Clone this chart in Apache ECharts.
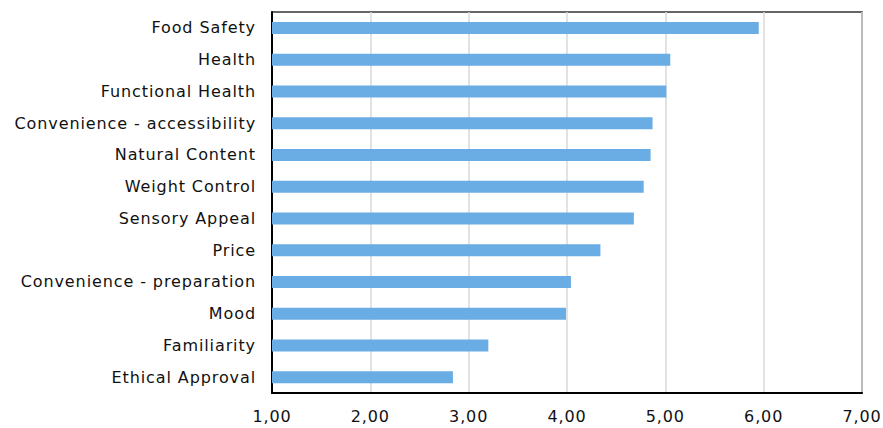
<!DOCTYPE html>
<html>
<head>
<meta charset="utf-8">
<script src="https://cdn.jsdelivr.net/npm/echarts@6/dist/echarts.min.js"></script>
<style>
  html, body { margin: 0; padding: 0; background: #fff; }
  #chart { width: 883px; height: 428px; }
  /* Verdana-like wide tracking for all chart text */
  #chart text { letter-spacing: 0.9px; }
</style>
</head>
<body>
<div id="chart"></div>
<script>
// Food choice motives, mean importance scores (1-7 scale)
const categories = [
  'Food Safety',
  'Health',
  'Functional Health',
  'Convenience - accessibility',
  'Natural Content',
  'Weight Control',
  'Sensory Appeal',
  'Price',
  'Convenience - preparation',
  'Mood',
  'Familiarity',
  'Ethical Approval'
];
const scores = [5.95, 5.05, 5.01, 4.87, 4.85, 4.78, 4.68, 4.34, 4.04, 3.99, 3.20, 2.84];
const tickLabels = ['1,00', '2,00', '3,00', '4,00', '5,00', '6,00', '7,00'];

const FONT = '"DejaVu Sans", Verdana, sans-serif';

const chart = echarts.init(document.getElementById('chart'), null, { renderer: 'svg' });
chart.setOption({
  animation: false,
  grid: {
    left: 272, right: 21, top: 12, bottom: 35,
    show: true, borderColor: '#333', borderWidth: 1.5, backgroundColor: '#fff'
  },
  xAxis: {
    type: 'value', min: 1, max: 7, interval: 1,
    axisLine: { show: true, lineStyle: { color: '#000', width: 2 } },
    axisTick: { show: false },
    splitLine: { show: true, lineStyle: { color: '#d9d9d9', width: 1.5 } },
    axisLabel: {
      color: '#111', fontFamily: FONT, fontSize: 16, margin: 15,
      formatter: v => tickLabels[Math.round(v) - 1]
    }
  },
  yAxis: {
    type: 'category', data: categories, inverse: true,
    axisLine: { show: true, lineStyle: { color: '#000', width: 2 } },
    axisTick: { show: false },
    axisLabel: { color: '#111', fontFamily: FONT, fontSize: 16, margin: 16 }
  },
  series: [{
    type: 'bar', data: scores, barWidth: 12,
    itemStyle: { color: '#6aade4' }
  }]
});
</script>
</body>
</html>
